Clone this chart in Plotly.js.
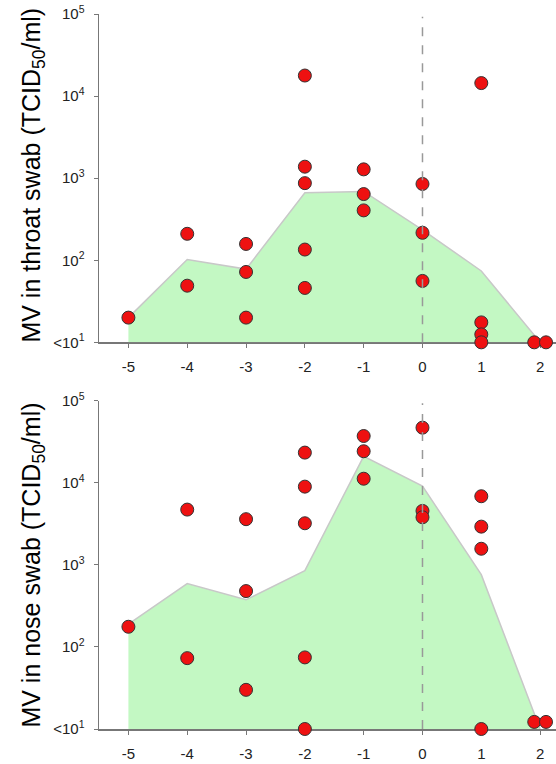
<!DOCTYPE html>
<html>
<head>
<meta charset="utf-8">
<script src="https://cdn.plot.ly/plotly-3.0.1.min.js"></script>
<style>html,body{margin:0;padding:0;background:#fff;}#chart{width:556px;height:764px;}</style>
</head>
<body>
<div id="chart"></div>
<script>
// Day categories and tick labels
const days = [-5, -4, -3, -2, -1, 0, 1, 2];
const xTickText = ['-5', '-4', '-3', '-2', '-1', '0', '1', '2'];
const yTickVals = [10, 100, 1000, 10000, 100000];
const yTickText = ['<10<sup>1</sup>', '10<sup>2</sup>', '10<sup>3</sup>', '10<sup>4</sup>', '10<sup>5</sup>'];
const baseline = [10, 10, 10, 10, 10, 10, 10, 10];

// Throat swab: mean area and individual points
const throatMean = [20, 102, 78, 665, 690, 235, 74, 10];
const throatX = [-5, -4, -4, -3, -3, -3, -2, -2, -2, -2, -2, -1, -1, -1, 0, 0, 0, 1, 1, 1, 1, 1.9, 2.1];
const throatY = [20, 210, 49, 158, 72, 20, 17800, 1380, 870, 135, 46, 1280, 640, 405, 850, 216, 56, 14400, 17.5, 12.5, 10, 10, 10];

// Nose swab: mean area and individual points
const noseMean = [190, 590, 375, 850, 21000, 9100, 760, 10];
const noseX = [-5, -4, -4, -3, -3, -3, -2, -2, -2, -2, -2, -1, -1, -1, 0, 0, 0, 1, 1, 1, 1, 1.9, 2.1];
const noseY = [176, 4710, 73, 3600, 479, 30, 23300, 8970, 3210, 74.5, 10, 37100, 24200, 11200, 46900, 4540, 3800, 6850, 2920, 1570, 10, 12.2, 12.2];

const fillColor = '#c3f8c3';
const edgeColor = '#c8c8c8';
const font = 'Liberation Sans, Arial, sans-serif';

function panel(meanY, px, py, xa, ya) {
  return [
    {x: days, y: baseline, xaxis: xa, yaxis: ya, mode: 'lines', line: {width: 0, color: fillColor}, hoverinfo: 'skip', showlegend: false},
    {x: days, y: meanY, xaxis: xa, yaxis: ya, mode: 'lines', fill: 'tonexty', fillcolor: fillColor, line: {width: 1.5, color: edgeColor}, showlegend: false},
    {x: px, y: py, xaxis: xa, yaxis: ya, mode: 'markers', cliponaxis: false,
     marker: {size: 13, color: '#ee1111', line: {width: 1, color: '#333333'}}, showlegend: false}
  ];
}

const data = [].concat(
  panel(throatMean, throatX, throatY, 'x', 'y'),
  panel(noseMean, noseX, noseY, 'x2', 'y2')
);

function xAxis(anchor) {
  return {anchor: anchor, domain: [0, 1], range: [-5.5, 2.27], tickvals: days, ticktext: xTickText,
    showgrid: false, zeroline: false, showline: true, linecolor: '#777', linewidth: 1.5,
    ticks: 'outside', ticklen: 4, tickcolor: '#777', ticklabelstandoff: 6,
    tickfont: {family: font, size: 15, color: '#222'}, layer: 'below traces'};
}
function yAxis(anchor, domain) {
  return {anchor: anchor, domain: domain, type: 'log', range: [1, 5], tickvals: yTickVals, ticktext: yTickText,
    showgrid: false, zeroline: false, showline: true, linecolor: '#777', linewidth: 1.5,
    ticks: 'outside', ticklen: 4, tickcolor: '#777', ticklabelstandoff: 6,
    tickfont: {family: font, size: 15, color: '#222'}, layer: 'below traces'};
}

const layout = {
  width: 556, height: 764,
  margin: {l: 99, r: 0, t: 14, b: 35},
  paper_bgcolor: '#fff', plot_bgcolor: '#fff',
  showlegend: false,
  xaxis: xAxis('y'),
  yaxis: yAxis('x', [0.5408, 1]),
  xaxis2: xAxis('y2'),
  yaxis2: yAxis('x2', [0, 0.4592]),
  shapes: [
    {type: 'line', xref: 'x', yref: 'y domain', x0: 0, x1: 0, y0: 0, y1: 0.992, line: {color: '#999', width: 1.5, dash: 'dash'}},
    {type: 'line', xref: 'x2', yref: 'y2 domain', x0: 0, x1: 0, y0: 0, y1: 0.992, line: {color: '#999', width: 1.5, dash: 'dash'}}
  ],
  annotations: [
    {text: 'MV in throat swab (TCID<sub>50</sub>/ml)', textangle: -90, xref: 'paper', yref: 'paper', x: -0.145, y: 0.775,
     xanchor: 'center', yanchor: 'middle', showarrow: false, font: {family: font, size: 25, color: '#000'}},
    {text: 'MV in nose swab (TCID<sub>50</sub>/ml)', textangle: -90, xref: 'paper', yref: 'paper', x: -0.145, y: 0.2296,
     xanchor: 'center', yanchor: 'middle', showarrow: false, font: {family: font, size: 25, color: '#000'}}
  ]
};

Plotly.newPlot('chart', data, layout, {displayModeBar: false, staticPlot: true});
</script>
</body>
</html>
